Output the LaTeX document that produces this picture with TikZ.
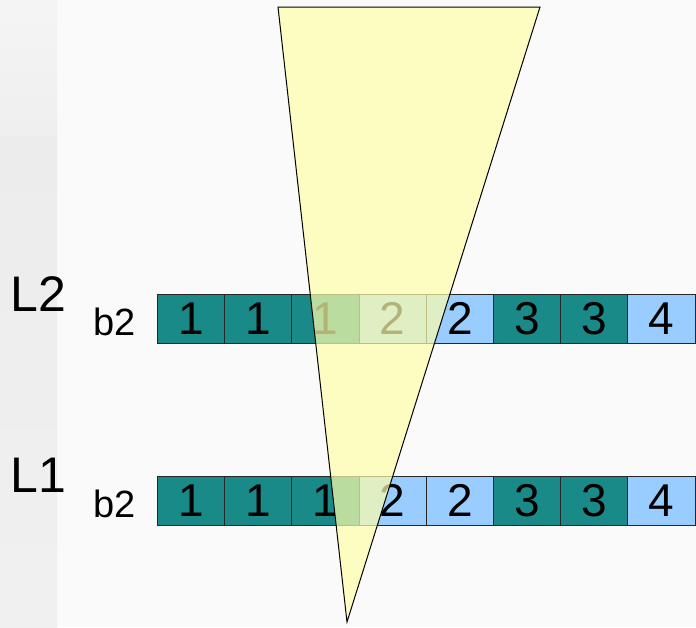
\documentclass[tikz,border=0pt]{standalone}
\usepackage{fontspec}
\setmainfont{Liberation Sans}
\definecolor{tealc}{HTML}{1A8A88}
\definecolor{bluec}{HTML}{99CCFF}
\definecolor{yellowc}{HTML}{FFFFAA}
\definecolor{bgc}{HTML}{FAFAFA}
\definecolor{bandc}{HTML}{ECECEC}
\begin{document}
\begin{tikzpicture}[x=1pt,y=-1pt,
  cell/.style={draw=black!85, line width=0.8pt, minimum width=67.2pt, minimum height=48.7pt,
    inner sep=0pt, font=\fontsize{46}{46}\selectfont, anchor=north west},
  tcell/.style={cell, fill=tealc},
  bcell/.style={cell, fill=bluec},
  lvl/.style={font=\fontsize{50}{50}\selectfont, anchor=base west, inner sep=0pt},
  blab/.style={font=\fontsize{38}{38}\selectfont, anchor=base west, inner sep=0pt},
  wedge/.style={draw=black, line width=1pt, fill=yellowc, fill opacity=0.7}]
  % background
  \fill[bgc] (0,0) rectangle (696,627);
  \useasboundingbox (0,0) rectangle (696,627);
  \shade[top color=bandc, bottom color=bandc!70!bgc] (0,135) rectangle (57,627);
  \shade[top color=bandc!40!bgc, bottom color=bandc!80!bgc] (0,0) rectangle (57,135);
  % labels
  \node[lvl] (l2) at (10,311) {L2};
  \node[blab] (b2top) at (93,335) {b2};
  \node[lvl] (l1) at (10,492) {L1};
  \node[blab] (b2bot) at (93,517) {b2};
  % cells
  \foreach \d/\s [count=\i from 0] in {1/tcell,1/tcell,1/tcell,2/bcell,2/bcell,3/tcell,3/tcell,4/bcell} {
    \node[\s] (rtwo\i) at ({157+67.2*\i},294) {\d};
    \node[\s] (rone\i) at ({157+67.2*\i},476) {\d};
  }
  % wedge
  \coordinate (tl) at (278,7);
  \coordinate (tr) at (540,7);
  \coordinate (ap) at (347,622);
  \draw[wedge] (tl) -- (tr) -- (ap) -- cycle;
\end{tikzpicture}
\end{document}
